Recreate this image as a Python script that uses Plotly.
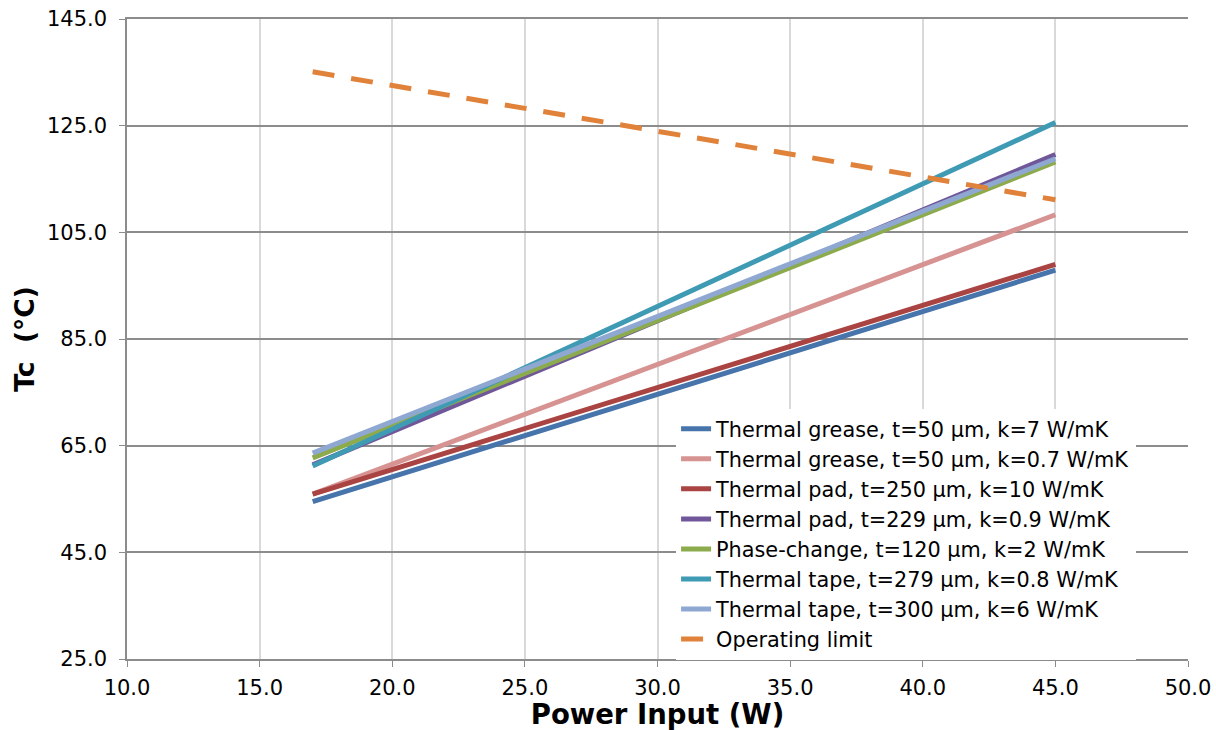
import plotly.graph_objs as graphObj

# power input (W) at the two ends of each curve
power = [17, 45]

names = [
    "Thermal grease, t=50 µm, k=7 W/mK",
    "Thermal grease, t=50 µm, k=0.7 W/mK",
    "Thermal pad, t=250 µm, k=10 W/mK",
    "Thermal pad, t=229 µm, k=0.9 W/mK",
    "Phase-change, t=120 µm, k=2 W/mK",
    "Thermal tape, t=279 µm, k=0.8 W/mK",
    "Thermal tape, t=300 µm, k=6 W/mK",
]
# case temperature Tc (°C) at 17 W and 45 W
tc_values = [
    [54.5, 97.9],
    [55.9, 108.3],
    [55.9, 99.0],
    [61.4, 119.6],
    [62.7, 118.2],
    [61.2, 125.6],
    [63.6, 118.8],
]
limit_name = "Operating limit"
limit_values = [135.1, 111.1]

colors = ["#4674ab", "#d69392", "#aa4442", "#70579a", "#8cab4c", "#3f9ab4", "#8fa8d2"]
limit_color = "#e0823a"

fig = graphObj.Figure()
for name, vals, col in zip(names, tc_values, colors):
    fig.add_trace(graphObj.Scatter(x=power, y=vals, mode='lines', name=name,
                                   line=dict(color=col, width=5)))
fig.add_trace(graphObj.Scatter(x=power, y=limit_values, mode='lines', name=limit_name,
                               line=dict(color=limit_color, width=5, dash='22px,17px')))

fig.update_xaxes(range=[10, 50], tick0=10, dtick=5, tickformat='.1f', showline=True,
                 mirror=True, linecolor='#8c8c8c', linewidth=1.5, ticks='outside', ticklen=6,
                 tickcolor='#8c8c8c', showgrid=True, gridcolor='#d9d9d9', gridwidth=1.5,
                 zeroline=False, automargin=False, tickfont=dict(size=21),
                 ticklabelstandoff=3, ticklabeloverflow='allow',
                 title=dict(text='<b>Power Input (W)</b>', font=dict(size=27.5), standoff=0))
fig.update_yaxes(range=[25, 145], tick0=25, dtick=20, tickformat='.1f', showline=True,
                 linecolor='#8c8c8c', linewidth=1.5, ticks='outside', ticklen=6,
                 tickcolor='#8c8c8c', showgrid=True, gridcolor='#8c8c8c', gridwidth=1.5,
                 zeroline=False, automargin=False, tickfont=dict(size=21),
                 ticklabelstandoff=8, ticklabeloverflow='allow',
                 title=dict(text='<b>Tc  (°C)</b>', font=dict(size=26.5), standoff=5))
fig.update_layout(
    width=1216, height=730,
    margin=dict(l=127, r=28, t=19, b=71),
    plot_bgcolor='white', paper_bgcolor='white',
    font=dict(family='DejaVu Sans', size=21, color='black'),
    legend=dict(x=0.5175, y=0.391, xanchor='left', yanchor='top', bgcolor='white',
                font=dict(size=20.8), tracegroupgap=0),
)
# drop the browser's default body margin so the figure fills the window exactly
fig.write_html("out.html", config={'displayModeBar': False},
               post_script="document.body.style.margin='0';"
               "document.body.style.overflow='hidden';")
